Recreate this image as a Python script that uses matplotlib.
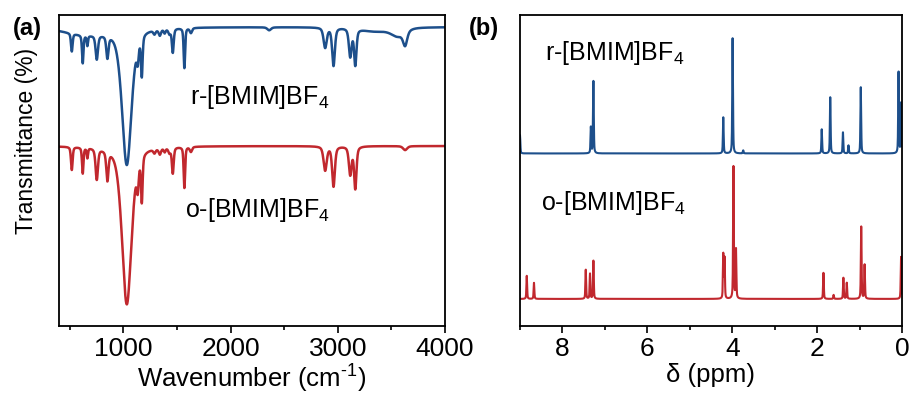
import numpy as np
import matplotlib
matplotlib.use("Agg")
import matplotlib.pyplot as plt
from matplotlib.ticker import MultipleLocator

plt.rcParams["font.family"] = ["Liberation Sans", "DejaVu Sans"]
plt.rcParams["mathtext.fontset"] = "custom"
plt.rcParams["mathtext.rm"] = "Liberation Sans"
plt.rcParams["mathtext.it"] = "Liberation Sans:italic"
plt.rcParams["mathtext.bf"] = "Liberation Sans:bold"

BLUE = "#1d4f8b"
RED = "#c1282e"

# ---- FTIR (a): band centre (cm-1), depth, FWHM  (arbitrary offset units)
ir_r_pos = [650, 519, 621, 664, 752, 851, 1032, 1134, 1172, 1290, 1340, 1385, 1430, 1461, 1569, 1630,
            2360, 2882, 2960, 3116, 3163, 3350, 3560, 3628]
ir_r_dep = [7, 18, 28, 10, 24, 22, 136, 18, 40, 4, 6, 4, 5, 24, 40, 5,
            3, 20, 38, 28, 36, 4, 8, 14]
ir_r_fw = [500, 18, 16, 14, 26, 24, 105, 22, 18, 25, 25, 20, 25, 20, 16, 25,
           40, 35, 30, 30, 26, 300, 150, 45]
ir_r_base = 299

ir_o_pos = [519, 621, 664, 752, 851, 1032, 1134, 1172, 1290, 1340, 1385, 1430, 1461, 1569, 1630,
            2882, 2960, 3116, 3163, 3628]
ir_o_dep = [23, 26, 10, 31, 29, 158, 25, 46, 4, 6, 4, 5, 26, 41, 5,
            24, 40, 28, 42, 4]
ir_o_fw = [18, 16, 14, 26, 24, 105, 22, 18, 25, 25, 20, 25, 20, 16, 25,
           35, 30, 30, 26, 45]
ir_o_base = 180

# ---- 1H NMR (b): shift (ppm), height
nmr_r_pos = [9.0, 7.33, 7.27, 4.21, 3.99, 3.74, 1.89, 1.69, 1.39, 1.26, 0.97, 0.08, 0.02]
nmr_r_h = [18, 26, 72, 36, 115, 3, 24, 56, 21, 8, 66, 81, 50]
nmr_r_base = 172

nmr_o_pos = [8.84, 8.67, 7.45, 7.35, 7.27, 4.21, 4.18, 3.97, 3.91, 1.85, 1.61, 1.38, 1.30, 0.96, 0.88, 0.02]
nmr_o_h = [23, 16, 29, 25, 38, 44, 40, 132, 49, 26, 4, 21, 16, 72, 34, 42]
nmr_o_base = 27


def pv(x, c, a, w, eta=0.5):
    g = np.exp(-4 * np.log(2) * ((x - c) / w) ** 2)
    l = 1 / (1 + ((x - c) / (w / 2)) ** 2)
    return a * (eta * l + (1 - eta) * g)


def spectrum(x, base, pos, amp, fw, sign):
    y = np.full_like(x, base, dtype=float)
    for c, a, w in zip(pos, amp, fw):
        y += sign * pv(x, c, a, w)
    return y


wn = np.linspace(400, 4000, 7200)
ppm = np.linspace(0, 9, 9000)

fig = plt.figure(figsize=(9.11, 4.01), dpi=100)
axa = fig.add_axes([0.0648, 0.187, 0.4237, 0.7756])
axb = fig.add_axes([0.5708, 0.187, 0.4193, 0.7756])

axa.plot(wn, spectrum(wn, ir_r_base, ir_r_pos, ir_r_dep, ir_r_fw, -1), color=BLUE, lw=1.8)
axa.plot(wn, spectrum(wn, ir_o_base, ir_o_pos, ir_o_dep, ir_o_fw, -1), color=RED, lw=1.8)
axa.set_xlim(400, 4000)
axa.set_ylim(0, 311)
axa.xaxis.set_major_locator(MultipleLocator(1000))
axa.xaxis.set_minor_locator(MultipleLocator(500))
axa.set_xlabel("Wavenumber (cm$^{\\text{-1}}$)", fontsize=18.5, labelpad=1)
axa.set_ylabel("Transmittance (%)", fontsize=16.5)
axa.yaxis.set_label_coords(-0.055, 0.595)
axa.text(0.339, 0.736, "r-[BMIM]BF$_4$", transform=axa.transAxes, fontsize=18, va="center")
axa.text(0.326, 0.373, "o-[BMIM]BF$_4$", transform=axa.transAxes, fontsize=18, va="center")

nw = [0.02] * 20
axb.plot(ppm, spectrum(ppm, nmr_r_base, nmr_r_pos, nmr_r_h, nw, 1), color=BLUE, lw=1.5)
axb.plot(ppm, spectrum(ppm, nmr_o_base, nmr_o_pos, nmr_o_h, nw, 1), color=RED, lw=1.5)
axb.set_xlim(9, 0)
axb.set_ylim(0, 310)
axb.xaxis.set_major_locator(MultipleLocator(2))
axb.xaxis.set_minor_locator(MultipleLocator(1))
axb.set_xlabel("δ (ppm)", fontsize=18.5, labelpad=1)
axb.text(0.065, 0.877, "r-[BMIM]BF$_4$", transform=axb.transAxes, fontsize=18, va="center")
axb.text(0.055, 0.397, "o-[BMIM]BF$_4$", transform=axb.transAxes, fontsize=18, va="center")

for ax in (axa, axb):
    ax.set_yticks([])
    ax.tick_params(axis="x", which="major", direction="out", length=5, width=1.2, labelsize=19, pad=3)
    ax.tick_params(axis="x", which="minor", direction="out", length=3, width=1.2)
    for s in ax.spines.values():
        s.set_linewidth(1.3)

fig.text(0.014, 0.928, "(a)", fontsize=17, fontweight="bold", va="center")
fig.text(0.515, 0.928, "(b)", fontsize=17, fontweight="bold", va="center")

fig.savefig("out.png", dpi=100)
